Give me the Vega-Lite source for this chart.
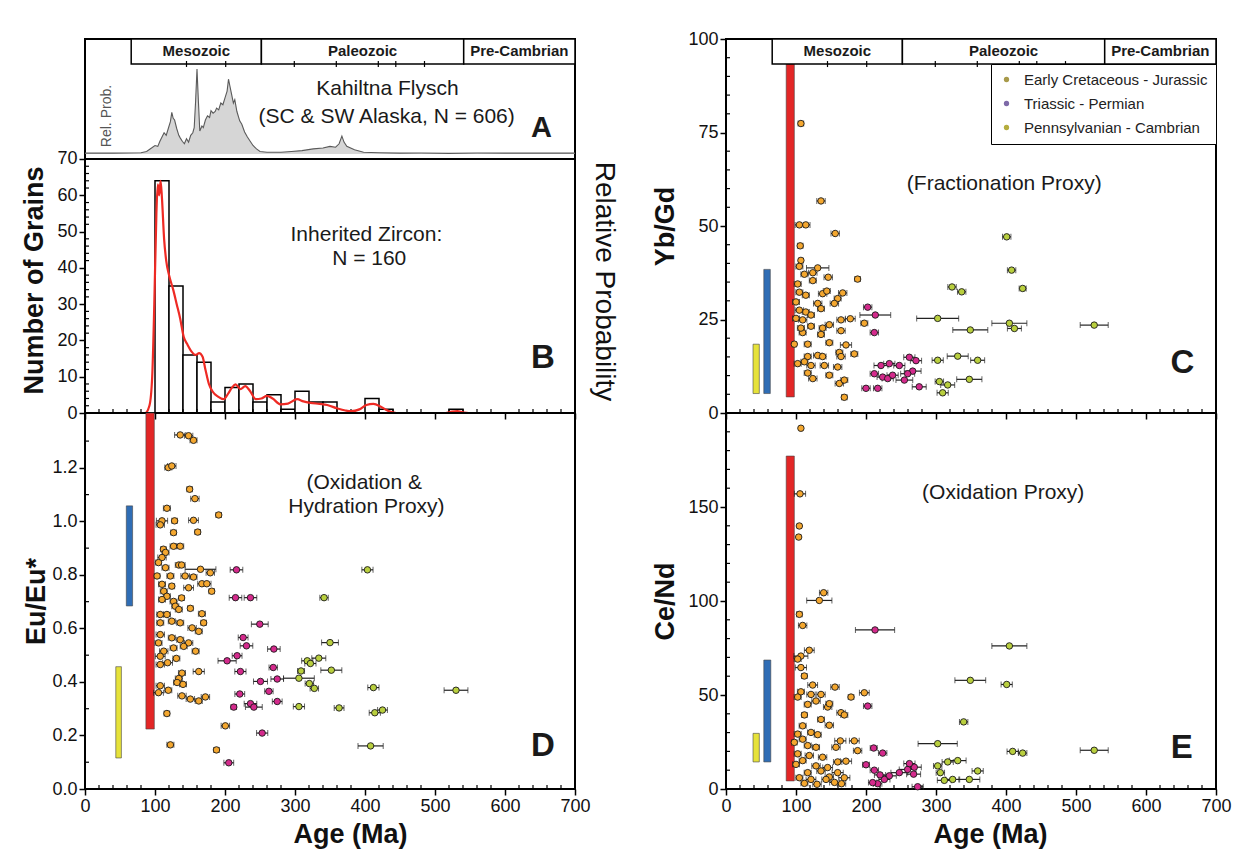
{
"$schema": "https://vega.github.io/schema/vega-lite/v6.json",
"padding": {"left": 19, "top": 29, "right": 5, "bottom": 2},
"config": {
  "font": "Liberation Sans",
  "view": {"stroke": "black", "strokeWidth": 2},
  "axis": {"domain": false, "grid": false, "tickColor": "black", "tickSize": 6, "tickWidth": 1.5, "labelFontSize": 18, "labelColor": "#111", "labelPadding": 2, "titleFontSize": 27, "titleFontWeight": "bold", "titleColor": "#111", "labelFlush": false, "labelOverlap": false},
  "text": {"font": "Liberation Sans", "color": "#1a1a1a"}
},
"datasets": {
  "hist": [{"b0":100,"b1":120,"n":64},{"b0":120,"b1":140,"n":35},{"b0":140,"b1":160,"n":16},{"b0":160,"b1":180,"n":14},{"b0":180,"b1":200,"n":3},{"b0":200,"b1":220,"n":7},{"b0":220,"b1":240,"n":8},{"b0":240,"b1":260,"n":3},{"b0":260,"b1":280,"n":5},{"b0":280,"b1":300,"n":1},{"b0":300,"b1":320,"n":6},{"b0":320,"b1":340,"n":3},{"b0":340,"b1":360,"n":3},{"b0":400,"b1":420,"n":4},{"b0":420,"b1":440,"n":1},{"b0":520,"b1":540,"n":1}],
  "rc": [{"a":80,"n":0},{"a":86,"n":0},{"a":92,"n":2},{"a":96,"n":10},{"a":99,"n":30},{"a":102,"n":55},{"a":104,"n":63},{"a":106,"n":60},{"a":108,"n":64},{"a":110,"n":59},{"a":113,"n":48},{"a":116,"n":42},{"a":120,"n":38},{"a":126,"n":34},{"a":131,"n":30},{"a":136,"n":26},{"a":141,"n":21},{"a":146,"n":19},{"a":152,"n":17},{"a":158,"n":16},{"a":163,"n":16.5},{"a":168,"n":15.5},{"a":172,"n":12},{"a":177,"n":8},{"a":182,"n":6},{"a":190,"n":4.5},{"a":198,"n":3.8},{"a":205,"n":5.5},{"a":210,"n":7},{"a":215,"n":7.9},{"a":222,"n":6.6},{"a":229,"n":7.4},{"a":236,"n":6},{"a":244,"n":3.8},{"a":252,"n":4},{"a":260,"n":4.7},{"a":268,"n":4},{"a":279,"n":2.4},{"a":290,"n":2.6},{"a":303,"n":3.8},{"a":312,"n":3.2},{"a":322,"n":2.8},{"a":335,"n":2.5},{"a":346,"n":2.2},{"a":360,"n":1.3},{"a":372,"n":0.7},{"a":380,"n":0.5},{"a":392,"n":1},{"a":402,"n":2.2},{"a":412,"n":2.5},{"a":422,"n":1.8},{"a":430,"n":0.9},{"a":437,"n":0.3},{"a":445,"n":0},{"a":515,"n":0},{"a":524,"n":0.4},{"a":532,"n":0.5},{"a":540,"n":0.2},{"a":548,"n":0},{"a":560,"n":0}],
  "prob": [{"a":0,"p":0.01},{"a":40,"p":0.01},{"a":80,"p":0.015},{"a":88,"p":0.03},{"a":95,"p":0.07},{"a":100,"p":0.1},{"a":104,"p":0.09},{"a":107,"p":0.15},{"a":110,"p":0.2},{"a":113,"p":0.25},{"a":116,"p":0.22},{"a":119,"p":0.3},{"a":122,"p":0.38},{"a":124,"p":0.49},{"a":126,"p":0.42},{"a":128,"p":0.4},{"a":131,"p":0.3},{"a":134,"p":0.22},{"a":136,"p":0.19},{"a":139,"p":0.15},{"a":142,"p":0.12},{"a":145,"p":0.18},{"a":148,"p":0.14},{"a":151,"p":0.22},{"a":154,"p":0.25},{"a":156,"p":0.31},{"a":158,"p":0.62},{"a":160,"p":1.0},{"a":162,"p":0.62},{"a":164,"p":0.27},{"a":167,"p":0.33},{"a":169,"p":0.31},{"a":172,"p":0.4},{"a":175,"p":0.45},{"a":178,"p":0.43},{"a":180,"p":0.51},{"a":183,"p":0.48},{"a":186,"p":0.5},{"a":188,"p":0.54},{"a":191,"p":0.52},{"a":194,"p":0.6},{"a":197,"p":0.58},{"a":200,"p":0.66},{"a":203,"p":0.74},{"a":205,"p":0.88},{"a":207,"p":0.8},{"a":209,"p":0.72},{"a":212,"p":0.6},{"a":214,"p":0.64},{"a":217,"p":0.5},{"a":221,"p":0.39},{"a":224,"p":0.35},{"a":228,"p":0.26},{"a":232,"p":0.2},{"a":236,"p":0.15},{"a":240,"p":0.1},{"a":245,"p":0.06},{"a":250,"p":0.03},{"a":260,"p":0.02},{"a":280,"p":0.02},{"a":295,"p":0.03},{"a":310,"p":0.04},{"a":326,"p":0.06},{"a":340,"p":0.07},{"a":350,"p":0.09},{"a":358,"p":0.08},{"a":363,"p":0.12},{"a":367,"p":0.21},{"a":370,"p":0.14},{"a":374,"p":0.09},{"a":385,"p":0.05},{"a":398,"p":0.02},{"a":420,"p":0.015},{"a":450,"p":0.01},{"a":480,"p":0.012},{"a":520,"p":0.008},{"a":560,"p":0.012},{"a":600,"p":0.01},{"a":650,"p":0.01},{"a":700,"p":0.01}],
  "periods": [{"s":66,"t":252},{"s":252,"t":541},{"s":541,"t":700}],
  "ptick": [{"a":145},{"a":201},{"a":299},{"a":359},{"a":419},{"a":444},{"a":485}],
  "plabel": [{"a":159,"t":"Mesozoic"},{"a":396.5,"t":"Paleozoic"},{"a":620.5,"t":"Pre-Cambrian"}],
  "legend": [{"name":"Early Cretaceous - Jurassic"},{"name":"Triassic - Permian"},{"name":"Pennsylvanian - Cambrian"}],
  "mx": [{"t":20},{"t":40},{"t":60},{"t":80},{"t":120},{"t":140},{"t":160},{"t":180},{"t":220},{"t":240},{"t":260},{"t":280},{"t":320},{"t":340},{"t":360},{"t":380},{"t":420},{"t":440},{"t":460},{"t":480},{"t":520},{"t":540},{"t":560},{"t":580},{"t":620},{"t":640},{"t":660},{"t":680}],
  "myB": [{"t":2},{"t":4},{"t":6},{"t":8},{"t":12},{"t":14},{"t":16},{"t":18},{"t":22},{"t":24},{"t":26},{"t":28},{"t":32},{"t":34},{"t":36},{"t":38},{"t":42},{"t":44},{"t":46},{"t":48},{"t":52},{"t":54},{"t":56},{"t":58},{"t":62},{"t":64},{"t":66},{"t":68}],
  "myD": [{"t":0.1},{"t":0.3},{"t":0.5},{"t":0.7},{"t":0.9},{"t":1.1},{"t":1.3}],
  "myC": [{"t":5},{"t":10},{"t":15},{"t":20},{"t":30},{"t":35},{"t":40},{"t":45},{"t":55},{"t":60},{"t":65},{"t":70},{"t":80},{"t":85},{"t":90},{"t":95}],
  "myE": [{"t":10},{"t":20},{"t":30},{"t":40},{"t":60},{"t":70},{"t":80},{"t":90},{"t":110},{"t":120},{"t":130},{"t":140},{"t":160},{"t":170},{"t":180},{"t":190}],
  "rD": [{"k":"red","x1":87,"x2":99,"y1":0.224,"y2":1.405},{"k":"blue","x1":59,"x2":68,"y1":0.684,"y2":1.058},{"k":"yellow","x1":44,"x2":52,"y1":0.116,"y2":0.457}],
  "rC": [{"k":"red","x1":86,"x2":97.6,"y1":4.3,"y2":93.3},{"k":"blue","x1":54,"x2":63.3,"y1":5.2,"y2":38.4},{"k":"yellow","x1":38.6,"x2":47.6,"y1":5.2,"y2":18.4}],
  "rE": [{"k":"red","x1":86,"x2":97.6,"y1":4.3,"y2":177.1},{"k":"blue","x1":54,"x2":64,"y1":14.4,"y2":68.6},{"k":"yellow","x1":38.6,"x2":47.6,"y1":14.4,"y2":29.6}],
  "D": [
{"g":"J","a":136,"v":1.323,"e":8},{"g":"J","a":148,"v":1.32,"e":6},{"g":"J","a":155,"v":1.303,"e":5},{"g":"J","a":119,"v":1.201,"e":5},{"g":"J","a":124,"v":1.207,"e":6},{"g":"J","a":149.5,"v":1.12,"e":4},{"g":"J","a":157,"v":1.085,"e":6},{"g":"J","a":117,"v":1.049,"e":5},{"g":"J","a":110,"v":1.002,"e":8},{"g":"J","a":107.5,"v":0.987,"e":6},{"g":"J","a":128,"v":1.002,"e":4},{"g":"J","a":155,"v":1.004,"e":7},{"g":"J","a":191,"v":1.024,"e":4},{"g":"J","a":126.5,"v":0.958,"e":4},{"g":"J","a":161,"v":0.96,"e":4},{"g":"J","a":126.5,"v":0.907,"e":5},{"g":"J","a":136,"v":0.907,"e":5},{"g":"J","a":112,"v":0.896,"e":4},{"g":"J","a":115,"v":0.884,"e":5},{"g":"J","a":110,"v":0.865,"e":6},{"g":"J","a":105,"v":0.846,"e":4},{"g":"J","a":134,"v":0.837,"e":5},{"g":"J","a":138,"v":0.837,"e":5},{"g":"J","a":115,"v":0.827,"e":5},{"g":"J","a":165,"v":0.821,"e":22},{"g":"J","a":179,"v":0.808,"e":6},{"g":"J","a":103,"v":0.796,"e":4},{"g":"J","a":122,"v":0.796,"e":5},{"g":"J","a":143,"v":0.796,"e":6},{"g":"J","a":155,"v":0.792,"e":5},{"g":"J","a":167,"v":0.767,"e":6},{"g":"J","a":174,"v":0.767,"e":6},{"g":"J","a":110,"v":0.765,"e":5},{"g":"J","a":124,"v":0.758,"e":4},{"g":"J","a":148,"v":0.752,"e":7},{"g":"J","a":181,"v":0.739,"e":4},{"g":"J","a":112.5,"v":0.739,"e":5},{"g":"J","a":117,"v":0.72,"e":5},{"g":"J","a":126.5,"v":0.701,"e":5},{"g":"J","a":138,"v":0.714,"e":4},{"g":"J","a":110,"v":0.708,"e":5},{"g":"J","a":129,"v":0.683,"e":5},{"g":"J","a":150.5,"v":0.675,"e":4},{"g":"J","a":134,"v":0.671,"e":5},{"g":"J","a":107.5,"v":0.652,"e":5},{"g":"J","a":117,"v":0.652,"e":5},{"g":"J","a":167,"v":0.655,"e":5},{"g":"J","a":124,"v":0.627,"e":5},{"g":"J","a":136,"v":0.621,"e":5},{"g":"J","a":153,"v":0.602,"e":6},{"g":"J","a":169.5,"v":0.621,"e":4},{"g":"J","a":107.5,"v":0.621,"e":5},{"g":"J","a":162.5,"v":0.589,"e":5},{"g":"J","a":107.5,"v":0.577,"e":6},{"g":"J","a":124,"v":0.565,"e":5},{"g":"J","a":136,"v":0.558,"e":5},{"g":"J","a":148,"v":0.546,"e":6},{"g":"J","a":158,"v":0.515,"e":5},{"g":"J","a":105,"v":0.546,"e":5},{"g":"J","a":112.5,"v":0.515,"e":6},{"g":"J","a":126.5,"v":0.527,"e":5},{"g":"J","a":141,"v":0.533,"e":5},{"g":"J","a":107.5,"v":0.496,"e":7},{"g":"J","a":130.5,"v":0.488,"e":5},{"g":"J","a":107.5,"v":0.465,"e":6},{"g":"J","a":118,"v":0.472,"e":7},{"g":"J","a":138.5,"v":0.433,"e":5},{"g":"J","a":162.5,"v":0.439,"e":8},{"g":"J","a":134,"v":0.413,"e":5},{"g":"J","a":131.5,"v":0.398,"e":5},{"g":"J","a":140,"v":0.391,"e":5},{"g":"J","a":107.5,"v":0.386,"e":6},{"g":"J","a":119,"v":0.369,"e":5},{"g":"J","a":105,"v":0.36,"e":7},{"g":"J","a":138.5,"v":0.348,"e":6},{"g":"J","a":150.5,"v":0.336,"e":6},{"g":"J","a":162.5,"v":0.329,"e":5},{"g":"J","a":172,"v":0.344,"e":6},{"g":"J","a":117,"v":0.282,"e":4},{"g":"J","a":200.5,"v":0.236,"e":6},{"g":"J","a":122,"v":0.165,"e":5},{"g":"J","a":187.8,"v":0.146,"e":4},
{"g":"T","a":216.4,"v":0.819,"e":9},{"g":"T","a":215,"v":0.715,"e":9},{"g":"T","a":236.4,"v":0.715,"e":9},{"g":"T","a":249.7,"v":0.616,"e":12},{"g":"T","a":225.9,"v":0.566,"e":7},{"g":"T","a":230.7,"v":0.535,"e":9},{"g":"T","a":269.8,"v":0.523,"e":9},{"g":"T","a":217.3,"v":0.498,"e":7},{"g":"T","a":203,"v":0.479,"e":13},{"g":"T","a":222,"v":0.439,"e":8},{"g":"T","a":268.9,"v":0.454,"e":6},{"g":"T","a":250.7,"v":0.402,"e":10},{"g":"T","a":274.6,"v":0.411,"e":9},{"g":"T","a":262.7,"v":0.365,"e":6},{"g":"T","a":221.1,"v":0.355,"e":7},{"g":"T","a":274.6,"v":0.327,"e":7},{"g":"T","a":212.5,"v":0.306,"e":4},{"g":"T","a":236.4,"v":0.319,"e":9},{"g":"T","a":241.2,"v":0.306,"e":12},{"g":"T","a":253.1,"v":0.209,"e":8},{"g":"T","a":205.4,"v":0.098,"e":7},
{"g":"P","a":403.5,"v":0.819,"e":8},{"g":"P","a":341.5,"v":0.715,"e":6},{"g":"P","a":350,"v":0.547,"e":12},{"g":"P","a":317.5,"v":0.479,"e":8},{"g":"P","a":322,"v":0.469,"e":8},{"g":"P","a":334,"v":0.489,"e":10},{"g":"P","a":308.6,"v":0.441,"e":5},{"g":"P","a":351.9,"v":0.444,"e":15},{"g":"P","a":305.6,"v":0.414,"e":22},{"g":"P","a":320.5,"v":0.394,"e":6},{"g":"P","a":327.6,"v":0.376,"e":6},{"g":"P","a":305.6,"v":0.308,"e":8},{"g":"P","a":363,"v":0.303,"e":7},{"g":"P","a":412,"v":0.379,"e":8},{"g":"P","a":414,"v":0.285,"e":8},{"g":"P","a":425,"v":0.295,"e":7},{"g":"P","a":408,"v":0.161,"e":18},{"g":"P","a":530,"v":0.369,"e":17}
  ],
  "C": [
{"g":"J","a":107,"v":77.4,"e":4},{"g":"J","a":135.7,"v":56.7,"e":6},{"g":"J","a":104.8,"v":50.3,"e":6},{"g":"J","a":114,"v":50.3,"e":6},{"g":"J","a":156,"v":48,"e":6},{"g":"J","a":106,"v":44.7,"e":4},{"g":"J","a":107,"v":40.8,"e":3},{"g":"J","a":104.8,"v":39.2,"e":5},{"g":"J","a":131,"v":38.8,"e":16},{"g":"J","a":124,"v":37.5,"e":6},{"g":"J","a":112,"v":37.1,"e":5},{"g":"J","a":146,"v":36.3,"e":6},{"g":"J","a":188,"v":35.8,"e":4},{"g":"J","a":124,"v":35.4,"e":5},{"g":"J","a":102.4,"v":34.5,"e":5},{"g":"J","a":104.8,"v":32.3,"e":5},{"g":"J","a":138,"v":31.9,"e":6},{"g":"J","a":144,"v":32.6,"e":5},{"g":"J","a":166.7,"v":32.1,"e":6},{"g":"J","a":114,"v":31.5,"e":5},{"g":"J","a":159.5,"v":30.6,"e":5},{"g":"J","a":154.8,"v":29.3,"e":6},{"g":"J","a":131,"v":29.3,"e":6},{"g":"J","a":100,"v":29.7,"e":5},{"g":"J","a":135.7,"v":27.9,"e":5},{"g":"J","a":104.8,"v":27.5,"e":6},{"g":"J","a":114,"v":27.0,"e":5},{"g":"J","a":121.4,"v":26.2,"e":5},{"g":"J","a":100,"v":25.3,"e":5},{"g":"J","a":109.5,"v":24.9,"e":6},{"g":"J","a":164.3,"v":24.9,"e":6},{"g":"J","a":177.6,"v":25.2,"e":7},{"g":"J","a":197.6,"v":24.0,"e":5},{"g":"J","a":147.6,"v":23.6,"e":6},{"g":"J","a":138,"v":22.7,"e":5},{"g":"J","a":121.4,"v":23.2,"e":5},{"g":"J","a":164.3,"v":22.0,"e":6},{"g":"J","a":109.5,"v":21.5,"e":5},{"g":"J","a":135.7,"v":21.0,"e":5},{"g":"J","a":116.7,"v":18.4,"e":5},{"g":"J","a":147.6,"v":18.8,"e":5},{"g":"J","a":171.4,"v":18.2,"e":8},{"g":"J","a":97.6,"v":18.4,"e":3},{"g":"J","a":161.9,"v":16.2,"e":5},{"g":"J","a":183.3,"v":15.8,"e":5},{"g":"J","a":131,"v":15.4,"e":6},{"g":"J","a":116.7,"v":15.1,"e":5},{"g":"J","a":138,"v":15.1,"e":5},{"g":"J","a":164.3,"v":15.1,"e":6},{"g":"J","a":102.4,"v":13.2,"e":5},{"g":"J","a":121.4,"v":12.7,"e":6},{"g":"J","a":140.5,"v":12.7,"e":6},{"g":"J","a":159.5,"v":12.3,"e":6},{"g":"J","a":116.7,"v":10.7,"e":5},{"g":"J","a":124,"v":9.2,"e":6},{"g":"J","a":147.6,"v":10.1,"e":5},{"g":"J","a":112,"v":13.7,"e":5},{"g":"J","a":161.9,"v":7.9,"e":6},{"g":"J","a":169,"v":8.8,"e":5},{"g":"J","a":169,"v":4.2,"e":4},{"g":"J","a":107,"v":22.7,"e":5},
{"g":"T","a":202.4,"v":28.3,"e":6},{"g":"T","a":213.3,"v":26.2,"e":22},{"g":"T","a":211.9,"v":21.5,"e":6},{"g":"T","a":261.9,"v":14.9,"e":8},{"g":"T","a":271.4,"v":14.0,"e":8},{"g":"T","a":221.4,"v":12.7,"e":10},{"g":"T","a":233.3,"v":13.2,"e":8},{"g":"T","a":247.6,"v":12.7,"e":8},{"g":"T","a":266.7,"v":11.2,"e":12},{"g":"T","a":211.9,"v":10.5,"e":6},{"g":"T","a":223.8,"v":9.6,"e":8},{"g":"T","a":231,"v":9.2,"e":8},{"g":"T","a":254.8,"v":8.8,"e":12},{"g":"T","a":200,"v":6.6,"e":6},{"g":"T","a":216.7,"v":6.6,"e":6},{"g":"T","a":276,"v":7.0,"e":10},{"g":"T","a":238,"v":10.1,"e":8},{"g":"T","a":259.5,"v":10.5,"e":10},
{"g":"P","a":401,"v":47.1,"e":6},{"g":"P","a":408,"v":38.2,"e":6},{"g":"P","a":423.8,"v":33.3,"e":5},{"g":"P","a":322.9,"v":33.7,"e":6},{"g":"P","a":336.7,"v":32.4,"e":6},{"g":"P","a":302.4,"v":25.3,"e":30},{"g":"P","a":349,"v":22.2,"e":25},{"g":"P","a":404.8,"v":24.0,"e":25},{"g":"P","a":412,"v":22.6,"e":10},{"g":"P","a":526,"v":23.5,"e":20},{"g":"P","a":302.4,"v":14.1,"e":8},{"g":"P","a":331,"v":15.2,"e":15},{"g":"P","a":359.5,"v":14.1,"e":10},{"g":"P","a":347.6,"v":9.0,"e":18},{"g":"P","a":304.8,"v":8.4,"e":6},{"g":"P","a":316.7,"v":7.5,"e":10},{"g":"P","a":309.5,"v":5.4,"e":8}
  ],
  "E": [
{"g":"J","a":107,"v":191.9,"e":2},{"g":"J","a":105.7,"v":157,"e":8},{"g":"J","a":104.8,"v":139.9,"e":3},{"g":"J","a":103.8,"v":134,"e":3},{"g":"J","a":139.5,"v":104.4,"e":6},{"g":"J","a":133.3,"v":100.3,"e":18},{"g":"J","a":104.8,"v":92.9,"e":4},{"g":"J","a":109.5,"v":87,"e":6},{"g":"J","a":119,"v":73.8,"e":7},{"g":"J","a":107,"v":70.7,"e":10},{"g":"J","a":102.4,"v":69.1,"e":5},{"g":"J","a":107,"v":64.6,"e":8},{"g":"J","a":111.9,"v":60.1,"e":4},{"g":"J","a":123.8,"v":55.3,"e":7},{"g":"J","a":155.7,"v":54.2,"e":6},{"g":"J","a":107,"v":51.7,"e":5},{"g":"J","a":121.4,"v":50.3,"e":6},{"g":"J","a":135.7,"v":50.3,"e":6},{"g":"J","a":197.6,"v":51.2,"e":7},{"g":"J","a":178.6,"v":48.9,"e":4},{"g":"J","a":102.4,"v":48.9,"e":5},{"g":"J","a":116.7,"v":45.0,"e":5},{"g":"J","a":128.6,"v":46.8,"e":6},{"g":"J","a":145.2,"v":43.6,"e":6},{"g":"J","a":147.6,"v":45.4,"e":5},{"g":"J","a":164.3,"v":40.6,"e":6},{"g":"J","a":169,"v":39.4,"e":5},{"g":"J","a":112,"v":39.4,"e":4},{"g":"J","a":135.7,"v":37.0,"e":5},{"g":"J","a":147.6,"v":33.9,"e":6},{"g":"J","a":109.5,"v":33.6,"e":5},{"g":"J","a":121.4,"v":30.1,"e":5},{"g":"J","a":131,"v":28.9,"e":5},{"g":"J","a":102.4,"v":29.2,"e":5},{"g":"J","a":109.5,"v":26.5,"e":5},{"g":"J","a":163.3,"v":25.6,"e":8},{"g":"J","a":183.3,"v":25.6,"e":7},{"g":"J","a":97.6,"v":24.8,"e":4},{"g":"J","a":116.7,"v":23.1,"e":5},{"g":"J","a":128.6,"v":22.2,"e":5},{"g":"J","a":157.1,"v":22.2,"e":6},{"g":"J","a":188,"v":20.4,"e":6},{"g":"J","a":102.4,"v":18.7,"e":5},{"g":"J","a":119,"v":17.8,"e":6},{"g":"J","a":138,"v":16.9,"e":6},{"g":"J","a":109.5,"v":15.1,"e":5},{"g":"J","a":159.5,"v":14.4,"e":6},{"g":"J","a":171.4,"v":14.8,"e":8},{"g":"J","a":100,"v":13.1,"e":5},{"g":"J","a":128.6,"v":12.3,"e":6},{"g":"J","a":145.2,"v":11.4,"e":7},{"g":"J","a":116.7,"v":8.7,"e":5},{"g":"J","a":135.7,"v":9.6,"e":6},{"g":"J","a":159.5,"v":8.7,"e":8},{"g":"J","a":169,"v":6.0,"e":8},{"g":"J","a":104.8,"v":6.0,"e":5},{"g":"J","a":121.4,"v":5.1,"e":7},{"g":"J","a":147.6,"v":6.4,"e":6},{"g":"J","a":142.9,"v":5.1,"e":6},{"g":"J","a":112,"v":3.0,"e":5},{"g":"J","a":130,"v":2.5,"e":6},{"g":"J","a":155,"v":3.5,"e":7},{"g":"J","a":165,"v":2.8,"e":6},
{"g":"T","a":212.9,"v":84.6,"e":28},{"g":"T","a":202.4,"v":44.1,"e":6},{"g":"T","a":211,"v":21.8,"e":5},{"g":"T","a":223.8,"v":19.1,"e":6},{"g":"T","a":200,"v":12.9,"e":5},{"g":"T","a":211.9,"v":10.0,"e":6},{"g":"T","a":269,"v":11.6,"e":10},{"g":"T","a":259.5,"v":10.4,"e":12},{"g":"T","a":247.6,"v":8.7,"e":12},{"g":"T","a":233.3,"v":7.0,"e":10},{"g":"T","a":226.2,"v":5.1,"e":8},{"g":"T","a":216.7,"v":2.8,"e":6},{"g":"T","a":209.5,"v":3.4,"e":6},{"g":"T","a":268,"v":7.9,"e":10},{"g":"T","a":273.8,"v":1.2,"e":8},{"g":"T","a":262,"v":13.5,"e":8},{"g":"T","a":220,"v":7.5,"e":8},
{"g":"P","a":404.8,"v":76.1,"e":25},{"g":"P","a":349,"v":57.8,"e":22},{"g":"P","a":401,"v":55.6,"e":8},{"g":"P","a":339.5,"v":35.7,"e":6},{"g":"P","a":302.4,"v":24.1,"e":28},{"g":"P","a":409.5,"v":20.0,"e":8},{"g":"P","a":423.8,"v":19.1,"e":6},{"g":"P","a":526,"v":20.6,"e":20},{"g":"P","a":316.7,"v":14.4,"e":8},{"g":"P","a":331,"v":15.1,"e":12},{"g":"P","a":302.4,"v":12.3,"e":6},{"g":"P","a":306.2,"v":8.7,"e":6},{"g":"P","a":359.5,"v":9.6,"e":8},{"g":"P","a":311.9,"v":4.6,"e":10},{"g":"P","a":323.8,"v":5.1,"e":10},{"g":"P","a":347.6,"v":5.1,"e":15}
  ]
},
"columns": 2,
"spacing": {"column": 151, "row": 0},
"bounds": "flush",
"resolve": {"scale": {"color": "independent", "fill": "independent"}, "legend": {"color": "independent", "fill": "independent"}},
"concat": [
{
  "width": 490, "height": 374,
  "layer": [
    {"layer": [
      {"data": {"name": "hist"}, "mark": {"type": "rect", "fill": "white", "stroke": "black", "strokeWidth": 1.5},
       "encoding": {
         "x": {"field": "b0", "type": "quantitative", "scale": {"domain": [0,700], "nice": false}, "axis": {"values": [0,100,200,300,400,500,600,700], "labels": false, "title": null, "labelOverlap": false}},
         "x2": {"field": "b1"},
         "y": {"field": "n", "type": "quantitative", "scale": {"domain": [0,103.07], "nice": false, "zero": false}, "axis": {"values": [0,10,20,30,40,50,60,70], "labelOverlap": false, "title": "Number of Grains", "titleY": 241, "titlePadding": 8}},
         "y2": {"datum": 0}}},
      {"data": {"values": [{}]}, "mark": {"type": "rule", "stroke": "black", "strokeWidth": 2}, "encoding": {"y": {"datum": 70}}},
      {"data": {"name": "mx"}, "mark": {"type": "rule", "stroke": "black", "strokeWidth": 1.2}, "encoding": {"x": {"field": "t", "type": "quantitative", "title": null}, "y": {"datum": 0}, "y2": {"datum": 1.1}}},
      {"data": {"name": "myB"}, "mark": {"type": "rule", "stroke": "black", "strokeWidth": 1.2}, "encoding": {"y": {"field": "t", "type": "quantitative", "title": "Number of Grains"}, "x": {"datum": 0}, "x2": {"datum": 5.7}}},
      {"data": {"values": [{}]}, "mark": {"type": "text", "fontSize": 21, "baseline": "middle"}, "encoding": {"x": {"datum": 402}, "y": {"datum": 49}, "text": {"value": "Inherited Zircon:"}}},
      {"data": {"values": [{}]}, "mark": {"type": "text", "fontSize": 21, "baseline": "middle"}, "encoding": {"x": {"datum": 406}, "y": {"datum": 42.4}, "text": {"value": "N = 160"}}},
      {"data": {"values": [{}]}, "mark": {"type": "text", "fontSize": 33, "fontWeight": "bold", "baseline": "middle"}, "encoding": {"x": {"datum": 654}, "y": {"datum": 15.1}, "text": {"value": "B"}}}
    ]},
    {"data": {"name": "rc"}, "mark": {"type": "line", "color": "#ee2a24", "strokeWidth": 2.2, "interpolate": "monotone"},
     "encoding": {"x": {"field": "a", "type": "quantitative", "scale": {"domain": [0,700], "nice": false}},
       "y": {"field": "n", "type": "quantitative", "scale": {"domain": [0,103.07], "nice": false, "zero": false}, "axis": {"orient": "right", "labels": false, "ticks": false, "title": "Relative Probability", "titleFontWeight": "normal", "titleFontSize": 28, "titleY": 242, "titleAngle": 90, "titlePadding": 14}}}},
    {"layer": [
      {"data": {"name": "prob"}, "mark": {"type": "area", "color": "#d6d6d6"},
       "encoding": {"x": {"field": "a", "type": "quantitative", "scale": {"domain": [0,700], "nice": false}}, "y": {"field": "p", "type": "quantitative", "scale": {"domain": [-3.047,1.353], "nice": false, "zero": false}, "axis": null}, "y2": {"datum": 0}}},
      {"data": {"name": "prob"}, "mark": {"type": "line", "color": "#5a5a5a", "strokeWidth": 1.1},
       "encoding": {"x": {"field": "a", "type": "quantitative"}, "y": {"field": "p", "type": "quantitative", "axis": null}}},
      {"data": {"name": "periods"}, "mark": {"type": "rect", "fill": "white", "stroke": "black", "strokeWidth": 1.5},
       "encoding": {"x": {"field": "s", "type": "quantitative"}, "x2": {"field": "t"}, "y": {"datum": 1.059, "axis": null}, "y2": {"datum": 1.353}}},
      {"data": {"name": "ptick"}, "mark": {"type": "rule", "stroke": "black", "strokeWidth": 1.2},
       "encoding": {"x": {"field": "a", "type": "quantitative"}, "y": {"datum": 1.024, "axis": null}, "y2": {"datum": 1.094}}},
      {"data": {"name": "plabel"}, "mark": {"type": "text", "fontSize": 15, "fontWeight": "bold", "baseline": "middle"},
       "encoding": {"x": {"field": "a", "type": "quantitative"}, "y": {"datum": 1.206, "axis": null}, "text": {"field": "t"}}},
      {"data": {"values": [{}]}, "mark": {"type": "text", "fontSize": 21, "baseline": "middle"}, "encoding": {"x": {"datum": 432}, "y": {"datum": 0.765, "axis": null}, "text": {"value": "Kahiltna Flysch"}}},
      {"data": {"values": [{}]}, "mark": {"type": "text", "fontSize": 21, "baseline": "middle"}, "encoding": {"x": {"datum": 431}, "y": {"datum": 0.43, "axis": null}, "text": {"value": "(SC & SW Alaska, N = 606)"}}},
      {"data": {"values": [{}]}, "mark": {"type": "text", "fontSize": 29, "fontWeight": "bold", "baseline": "middle"}, "encoding": {"x": {"datum": 652}, "y": {"datum": 0.306, "axis": null}, "text": {"value": "A"}}},
      {"data": {"values": [{}]}, "mark": {"type": "text", "fontSize": 14, "angle": 270, "color": "#555", "baseline": "middle"}, "encoding": {"x": {"datum": 32}, "y": {"datum": 0.447, "axis": null}, "text": {"value": "Rel. Prob."}}}
    ]}
  ],
  "resolve": {"scale": {"y": "independent"}, "axis": {"y": "independent"}}
},
{
  "width": 490, "height": 374,
  "layer": [
    {"data": {"name": "rC"}, "mark": {"type": "rect", "stroke": "#444", "strokeWidth": 0.6},
     "encoding": {
       "x": {"field": "x1", "type": "quantitative", "scale": {"domain": [0,700], "nice": false}, "axis": {"values": [0,100,200,300,400,500,600,700], "labels": false, "title": null, "labelOverlap": false}},
       "x2": {"field": "x2"},
       "y": {"field": "y1", "type": "quantitative", "scale": {"domain": [0,100], "nice": false}, "axis": {"values": [0,25,50,75,100], "labelOverlap": false, "title": "Yb/Gd", "titlePadding": 8}},
       "y2": {"field": "y2"},
       "fill": {"field": "k", "type": "nominal", "scale": {"domain": ["red","blue","yellow"], "range": ["#e32626","#2f6db5","#e6e23a"]}, "legend": null}}},
    {"data": {"name": "mx"}, "mark": {"type": "rule", "stroke": "black", "strokeWidth": 1.2}, "encoding": {"x": {"field": "t", "type": "quantitative", "title": null}, "y": {"datum": 0}, "y2": {"datum": 1.07}}},
    {"data": {"name": "myC"}, "mark": {"type": "rule", "stroke": "black", "strokeWidth": 1.2}, "encoding": {"y": {"field": "t", "type": "quantitative", "title": "Yb/Gd"}, "x": {"datum": 0}, "x2": {"datum": 5.7}}},
    {"data": {"name": "C"}, "mark": {"type": "errorbar", "color": "#222", "ticks": {"size": 6}, "rule": {"strokeWidth": 1.2}},
     "encoding": {"x": {"field": "a", "type": "quantitative", "scale": {"domain": [0,700], "nice": false}, "title": null}, "xError": {"field": "e"}, "y": {"field": "v", "type": "quantitative", "scale": {"domain": [0,100], "nice": false}, "title": "Yb/Gd"}}},
    {"data": {"name": "C"}, "mark": {"type": "point", "filled": true, "shape": "circle", "size": 42, "stroke": "#1a1a1a", "strokeWidth": 0.9, "opacity": 1},
     "encoding": {"x": {"field": "a", "type": "quantitative", "title": null}, "y": {"field": "v", "type": "quantitative", "title": "Yb/Gd"},
       "fill": {"field": "g", "type": "nominal", "scale": {"domain": ["J","T","P"], "range": ["#f4a72f","#d42a8c","#b9cf3e"]}, "legend": null}}},
    {"data": {"name": "legend"}, "mark": {"type": "point", "filled": true, "opacity": 0},
     "encoding": {"color": {"field": "name", "type": "nominal", "scale": {"domain": ["Early Cretaceous - Jurassic","Triassic - Permian","Pennsylvanian - Cambrian"], "range": ["#a89a4a","#7e6aa8","#b5ad3e"]},
       "legend": {"title": null, "orient": "none", "legendX": 265, "legendY": 25, "strokeColor": "black", "fillColor": "white", "padding": 8, "labelFontSize": 15, "labelColor": "#222", "symbolSize": 28, "symbolType": "circle", "rowPadding": 8, "labelOffset": 10, "labelLimit": 300, "symbolOpacity": 1, "symbolStrokeWidth": 0}}}},
    {"data": {"name": "periods"}, "mark": {"type": "rect", "fill": "white", "stroke": "black", "strokeWidth": 1.5},
     "encoding": {"x": {"field": "s", "type": "quantitative", "title": null}, "x2": {"field": "t"}, "y": {"datum": 93.3}, "y2": {"datum": 100}}},
    {"data": {"name": "ptick"}, "mark": {"type": "rule", "stroke": "black", "strokeWidth": 1.2},
     "encoding": {"x": {"field": "a", "type": "quantitative", "title": null}, "y": {"datum": 92.5}, "y2": {"datum": 94.1}}},
    {"data": {"name": "plabel"}, "mark": {"type": "text", "fontSize": 15, "fontWeight": "bold", "baseline": "middle"},
     "encoding": {"x": {"field": "a", "type": "quantitative", "title": null}, "y": {"datum": 96.66}, "text": {"field": "t"}}},
    {"data": {"values": [{}]}, "mark": {"type": "text", "fontSize": 21, "baseline": "middle"}, "encoding": {"x": {"datum": 397.6}, "y": {"datum": 61.2}, "text": {"value": "(Fractionation Proxy)"}}},
    {"data": {"values": [{}]}, "mark": {"type": "text", "fontSize": 33, "fontWeight": "bold", "baseline": "middle"}, "encoding": {"x": {"datum": 652}, "y": {"datum": 13.4}, "text": {"value": "C"}}}
  ],
  "resolve": {"scale": {"fill": "independent", "color": "independent"}}
},
{
  "width": 490, "height": 376,
  "layer": [
    {"data": {"name": "rD"}, "mark": {"type": "rect", "stroke": "#444", "strokeWidth": 0.6},
     "encoding": {
       "x": {"field": "x1", "type": "quantitative", "scale": {"domain": [0,700], "nice": false}, "axis": {"values": [0,100,200,300,400,500,600,700], "labelOverlap": false, "title": "Age (Ma)", "titlePadding": 6, "titleX": 265}},
       "x2": {"field": "x2"},
       "y": {"field": "y1", "type": "quantitative", "scale": {"domain": [0,1.405], "nice": false}, "axis": {"values": [0,0.2,0.4,0.6,0.8,1,1.2], "format": ".1f", "labelOverlap": false, "title": "Eu/Eu*", "titlePadding": 1}},
       "y2": {"field": "y2"},
       "fill": {"field": "k", "type": "nominal", "scale": {"domain": ["red","blue","yellow"], "range": ["#e32626","#2f6db5","#e6e23a"]}, "legend": null}}},
    {"data": {"name": "mx"}, "mark": {"type": "rule", "stroke": "black", "strokeWidth": 1.2}, "encoding": {"x": {"field": "t", "type": "quantitative", "title": "Age (Ma)"}, "y": {"datum": 0}, "y2": {"datum": 0.015}}},
    {"data": {"name": "myD"}, "mark": {"type": "rule", "stroke": "black", "strokeWidth": 1.2}, "encoding": {"y": {"field": "t", "type": "quantitative", "title": "Eu/Eu*"}, "x": {"datum": 0}, "x2": {"datum": 5.7}}},
    {"data": {"name": "D"}, "mark": {"type": "errorbar", "color": "#222", "ticks": {"size": 6}, "rule": {"strokeWidth": 1.2}},
     "encoding": {"x": {"field": "a", "type": "quantitative", "scale": {"domain": [0,700], "nice": false}, "title": "Age (Ma)"}, "xError": {"field": "e"}, "y": {"field": "v", "type": "quantitative", "scale": {"domain": [0,1.405], "nice": false}, "title": "Eu/Eu*"}}},
    {"data": {"name": "D"}, "mark": {"type": "point", "filled": true, "shape": "circle", "size": 42, "stroke": "#1a1a1a", "strokeWidth": 0.9, "opacity": 1},
     "encoding": {"x": {"field": "a", "type": "quantitative", "title": "Age (Ma)"}, "y": {"field": "v", "type": "quantitative", "title": "Eu/Eu*"},
       "fill": {"field": "g", "type": "nominal", "scale": {"domain": ["J","T","P"], "range": ["#f4a72f","#d42a8c","#b9cf3e"]}, "legend": null}}},
    {"data": {"values": [{}]}, "mark": {"type": "text", "fontSize": 21, "baseline": "middle"}, "encoding": {"x": {"datum": 399}, "y": {"datum": 1.145}, "text": {"value": "(Oxidation &"}}},
    {"data": {"values": [{}]}, "mark": {"type": "text", "fontSize": 21, "baseline": "middle"}, "encoding": {"x": {"datum": 402}, "y": {"datum": 1.053}, "text": {"value": "Hydration Proxy)"}}},
    {"data": {"values": [{}]}, "mark": {"type": "text", "fontSize": 33, "fontWeight": "bold", "baseline": "middle"}, "encoding": {"x": {"datum": 654}, "y": {"datum": 0.161}, "text": {"value": "D"}}}
  ],
  "resolve": {"scale": {"fill": "independent"}}
},
{
  "width": 490, "height": 376,
  "layer": [
    {"data": {"name": "rE"}, "mark": {"type": "rect", "stroke": "#444", "strokeWidth": 0.6},
     "encoding": {
       "x": {"field": "x1", "type": "quantitative", "scale": {"domain": [0,700], "nice": false}, "axis": {"values": [0,100,200,300,400,500,600,700], "labelOverlap": false, "title": "Age (Ma)", "titlePadding": 6, "titleX": 264}},
       "x2": {"field": "x2"},
       "y": {"field": "y1", "type": "quantitative", "scale": {"domain": [0,200], "nice": false}, "axis": {"values": [0,50,100,150], "labelOverlap": false, "title": "Ce/Nd", "titlePadding": 8}},
       "y2": {"field": "y2"},
       "fill": {"field": "k", "type": "nominal", "scale": {"domain": ["red","blue","yellow"], "range": ["#e32626","#2f6db5","#e6e23a"]}, "legend": null}}},
    {"data": {"name": "mx"}, "mark": {"type": "rule", "stroke": "black", "strokeWidth": 1.2}, "encoding": {"x": {"field": "t", "type": "quantitative", "title": "Age (Ma)"}, "y": {"datum": 0}, "y2": {"datum": 2.13}}},
    {"data": {"name": "myE"}, "mark": {"type": "rule", "stroke": "black", "strokeWidth": 1.2}, "encoding": {"y": {"field": "t", "type": "quantitative", "title": "Ce/Nd"}, "x": {"datum": 0}, "x2": {"datum": 5.7}}},
    {"data": {"name": "E"}, "mark": {"type": "errorbar", "color": "#222", "ticks": {"size": 6}, "rule": {"strokeWidth": 1.2}},
     "encoding": {"x": {"field": "a", "type": "quantitative", "scale": {"domain": [0,700], "nice": false}, "title": "Age (Ma)"}, "xError": {"field": "e"}, "y": {"field": "v", "type": "quantitative", "scale": {"domain": [0,200], "nice": false}, "title": "Ce/Nd"}}},
    {"data": {"name": "E"}, "mark": {"type": "point", "filled": true, "shape": "circle", "size": 42, "stroke": "#1a1a1a", "strokeWidth": 0.9, "opacity": 1},
     "encoding": {"x": {"field": "a", "type": "quantitative", "title": "Age (Ma)"}, "y": {"field": "v", "type": "quantitative", "title": "Ce/Nd"},
       "fill": {"field": "g", "type": "nominal", "scale": {"domain": ["J","T","P"], "range": ["#f4a72f","#d42a8c","#b9cf3e"]}, "legend": null}}},
    {"data": {"values": [{}]}, "mark": {"type": "text", "fontSize": 21, "baseline": "middle"}, "encoding": {"x": {"datum": 396}, "y": {"datum": 157.6}, "text": {"value": "(Oxidation Proxy)"}}},
    {"data": {"values": [{}]}, "mark": {"type": "text", "fontSize": 33, "fontWeight": "bold", "baseline": "middle"}, "encoding": {"x": {"datum": 651}, "y": {"datum": 21.8}, "text": {"value": "E"}}}
  ],
  "resolve": {"scale": {"fill": "independent"}}
}
]
}
